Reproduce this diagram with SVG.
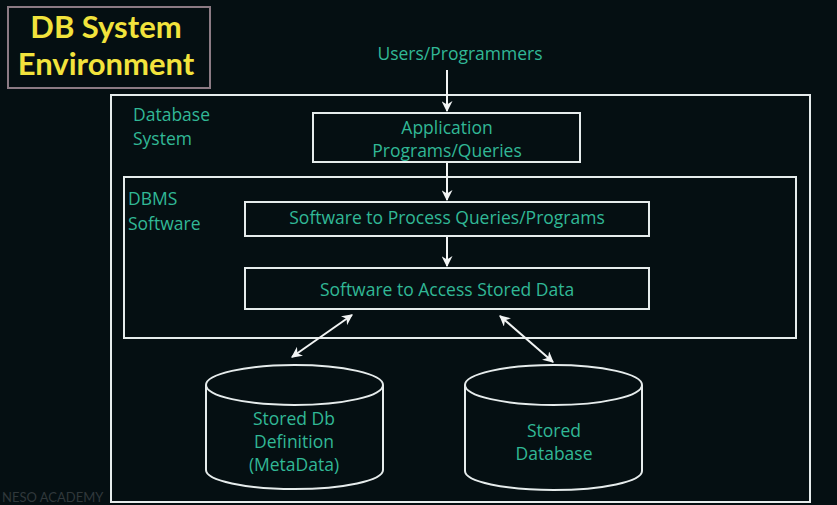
<svg xmlns="http://www.w3.org/2000/svg" width="837" height="505" viewBox="0 0 837 505">
<defs>
<marker id="ah" viewBox="0 0 10 10" refX="9" refY="5" markerWidth="5.5" markerHeight="5.5" orient="auto-start-reverse" markerUnits="strokeWidth">
<path d="M0,0 L10,5 L0,10 L3,5 Z" fill="#f2f4f4"/>
</marker>
<style>
.box{fill:none;stroke:#e6ecec;stroke-width:2}
.lbl{font-family:"Open Sans",Lato,sans-serif;font-size:17.5px;fill:#31b896}
.mid{text-anchor:middle}
.con{stroke:#f2f4f4;stroke-width:2;fill:none}
.title{font-family:Lato,"Open Sans",sans-serif;font-size:31px;font-weight:bold;fill:#f2e33c;text-anchor:middle}
</style>
</defs>
<rect x="0" y="0" width="837" height="505" fill="#050f12"/>
<text x="2" y="502" font-family="Lato,sans-serif" font-size="13" fill="#30383b">NESO ACADEMY</text>
<g id="title">
<rect x="8" y="7" width="202" height="81" fill="none" stroke="#8c7b84" stroke-width="2"/>
<text class="title" x="106" y="38">DB System</text>
<text class="title" x="106" y="75">Environment</text>
</g>
<g id="users"><text class="lbl mid" x="460" y="60">Users/Programmers</text></g>
<g id="database-system">
<rect class="box" x="111" y="95" width="699" height="407"/>
<text class="lbl" x="133" y="121">Database</text>
<text class="lbl" x="133" y="145">System</text>
</g>
<g id="app">
<rect class="box" x="313" y="113" width="267" height="49"/>
<text class="lbl mid" x="447" y="134">Application</text>
<text class="lbl mid" x="447" y="157">Programs/Queries</text>
</g>
<g id="dbms">
<rect class="box" x="124" y="177" width="672" height="161"/>
<text class="lbl" x="128" y="205">DBMS</text>
<text class="lbl" x="128" y="230">Software</text>
</g>
<g id="process">
<rect class="box" x="245" y="202" width="404" height="34"/>
<text class="lbl mid" x="447" y="224">Software to Process Queries/Programs</text>
</g>
<g id="access">
<rect class="box" x="245" y="268" width="404" height="41"/>
<text class="lbl mid" x="447" y="296">Software to Access Stored Data</text>
</g>
<g id="metadata">
<path class="box" d="M206,385 A88.5,20 0 0 1 383,385 L383,470 A88.5,19 0 0 1 206,470 Z"/>
<path class="box" d="M206,385 A88.5,20 0 0 0 383,385"/>
<text class="lbl mid" x="294" y="425">Stored Db</text>
<text class="lbl mid" x="294" y="448">Definition</text>
<text class="lbl mid" x="294" y="471">(MetaData)</text>
</g>
<g id="stored-db">
<path class="box" d="M465,385 A88.5,20 0 0 1 642,385 L642,471 A88.5,19 0 0 1 465,471 Z"/>
<path class="box" d="M465,385 A88.5,20 0 0 0 642,385"/>
<text class="lbl mid" x="554" y="437">Stored</text>
<text class="lbl mid" x="554" y="460">Database</text>
</g>
<g id="connectors">
<line class="con" x1="447" y1="70" x2="447" y2="111" marker-end="url(#ah)"/>
<line class="con" x1="447" y1="163" x2="447" y2="200" marker-end="url(#ah)"/>
<line class="con" x1="447" y1="237" x2="447" y2="266" marker-end="url(#ah)"/>
<line class="con" x1="292" y1="357" x2="352" y2="315" marker-start="url(#ah)" marker-end="url(#ah)"/>
<line class="con" x1="500" y1="316" x2="553" y2="362" marker-start="url(#ah)" marker-end="url(#ah)"/>
</g>
</svg>
